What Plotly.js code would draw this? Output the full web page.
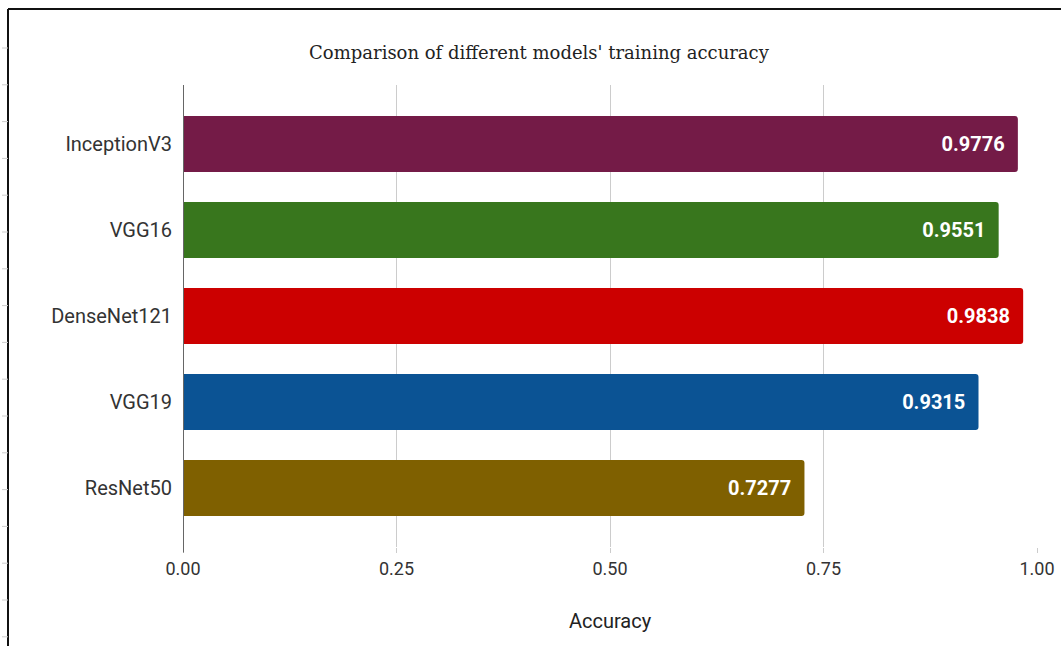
<!DOCTYPE html>
<html>
<head>
<meta charset="utf-8">
<script src="https://cdn.plot.ly/plotly-3.0.1.min.js"></script>
<style>html,body{margin:0;padding:0;background:#fff;}#chart{width:1061px;height:646px;}</style>
</head>
<body>
<div id="chart"></div>
<script>
var models = ["InceptionV3", "VGG16", "DenseNet121", "VGG19", "ResNet50"];
var accuracy = [0.9776, 0.9551, 0.9838, 0.9315, 0.7277];
var barColors = ["#741b47", "#38761d", "#cc0000", "#0b5394", "#7f6000"];
var xTickVals = [0, 0.25, 0.5, 0.75, 1.0];
var xTickText = ["0.00", "0.25", "0.50", "0.75", "1.00"];

var W = 1061, H = 646, L = 183, R = 24, T = 85, B = 99;
var pw = W - L - R, ph = H - T - B;
function px(x) { return (x - L) / pw; }
function py(y) { return (H - B - y) / ph; }

var shapes = [
  {type: "line", xref: "paper", yref: "paper", x0: px(8), x1: px(8), y0: py(9), y1: py(646), line: {color: "#111", width: 2}},
  {type: "line", xref: "paper", yref: "paper", x0: px(8), x1: px(1061), y0: py(9), y1: py(9), line: {color: "#111", width: 2}}
];
for (var yy = 48; yy < 646; yy += 36.8) {
  shapes.push({type: "line", xref: "paper", yref: "paper", x0: px(2), x1: px(8), y0: py(yy), y1: py(yy), line: {color: "#ccc", width: 1}});
}

var trace = {
  type: "bar",
  orientation: "h",
  y: models,
  x: accuracy,
  marker: {color: barColors},
  text: accuracy.map(function (v) { return v.toFixed(4) + "\u2002"; }),
  textposition: "inside",
  insidetextanchor: "end",
  textfont: {family: "Roboto, Arial, sans-serif", size: 20, color: "#ffffff", weight: "bold"},
  hoverinfo: "none",
  cliponaxis: false
};

var layout = {
  width: W, height: H,
  margin: {l: L, r: R, t: T, b: B, pad: 0},
  paper_bgcolor: "#ffffff",
  plot_bgcolor: "#ffffff",
  showlegend: false,
  bargap: 0.35,
  barcornerradius: 3,
  title: {
    text: "Comparison of different models' training accuracy",
    font: {family: "DejaVu Serif, Liberation Serif, serif", size: 18, color: "#222"},
    x: 0.508, xanchor: "center", y: 0.918, yanchor: "middle", yref: "container"
  },
  xaxis: {
    range: [0, 1.0],
    tickvals: xTickVals,
    ticktext: xTickText,
    showgrid: true,
    gridcolor: "#cccccc",
    gridwidth: 1,
    zeroline: false,
    showline: false,
    ticks: "outside",
    ticklen: 5,
    tickcolor: "#cccccc",
    tickfont: {family: "Roboto, Arial, sans-serif", size: 18, color: "#333"},
    title: {text: "Accuracy", font: {family: "Roboto, Arial, sans-serif", size: 20, color: "#222"}, standoff: 36}
  },
  yaxis: {
    type: "category",
    categoryorder: "array",
    categoryarray: models,
    range: [4.686, -0.686],
    showgrid: false,
    zeroline: false,
    showline: false,
    ticks: "",
    ticklabelstandoff: 10,
    tickfont: {family: "Roboto, Arial, sans-serif", size: 20, color: "#333"}
  },
  shapes: shapes.concat([
    {type: "line", xref: "x", yref: "paper", x0: 0, x1: 0, y0: -0.012, y1: 1, line: {color: "#666", width: 2}}
  ])
};

Plotly.newPlot("chart", [trace], layout, {displayModeBar: false, staticPlot: true});
</script>
</body>
</html>
